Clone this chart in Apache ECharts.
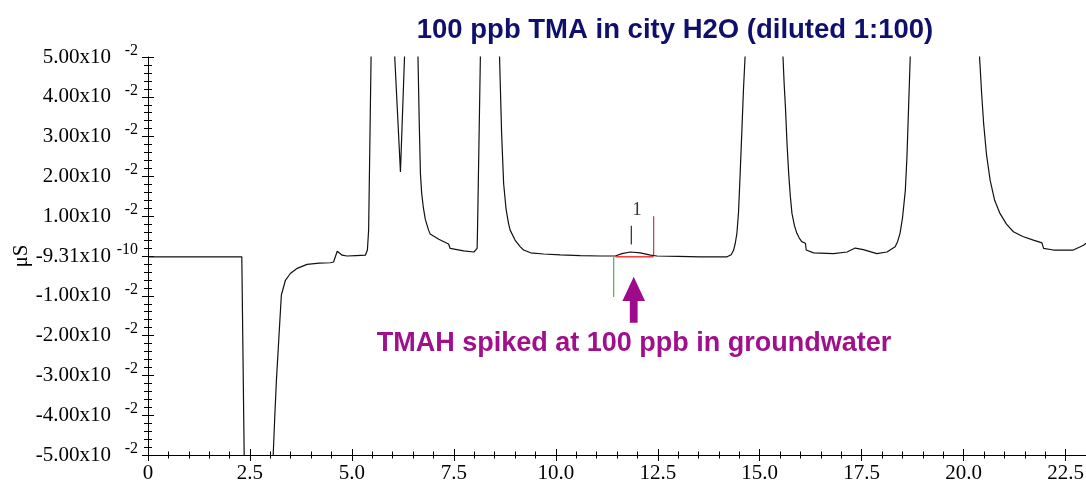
<!DOCTYPE html>
<html><head><meta charset="utf-8">
<script src="https://cdn.jsdelivr.net/npm/echarts@6/dist/echarts.min.js"></script>
<style>html,body{margin:0;padding:0;background:#fff}#c{width:1086px;height:485px}</style>
</head><body><div id="c"></div>
<script>
const titleText = '100 ppb TMA in city H2O (diluted 1:100)';
const noteText = 'TMAH spiked at 100 ppb in groundwater';
const yName = 'μS';
const peakLabel = '1';

const xMin = 0, xMax = 23;
const xTicks = [0, 2.5, 5, 7.5, 10, 12.5, 15, 17.5, 20, 22.5];
const xTickLabels = ['0', '2.5', '5.0', '7.5', '10.0', '12.5', '15.0', '17.5', '20.0', '22.5'];
const yMin = -0.05, yMax = 0.05, yStep = 0.01;
const yTickMantissa = ['-5.00x10', '-4.00x10', '-3.00x10', '-2.00x10', '-1.00x10', '-9.31x10', '1.00x10', '2.00x10', '3.00x10', '4.00x10', '5.00x10'];
const yTickExponent = ['-2', '-2', '-2', '-2', '-2', '-10', '-2', '-2', '-2', '-2', '-2'];

// retention time (min)
const timeMin = [0, 2.30, 2.33, 2.37, 2.70, 3.03, 3.07, 3.11, 3.15, 3.22, 3.27, 3.37, 3.49, 3.66, 3.90, 4.20, 4.47, 4.55, 4.64, 4.76, 4.88, 5.10, 5.33, 5.38, 5.41, 5.47, 5.60, 5.90, 6.05, 6.19, 6.29, 6.45, 6.62, 6.65, 6.68, 6.71, 6.75, 6.80, 6.88, 6.92, 7.00, 7.13, 7.17, 7.37, 7.41, 7.74, 7.99, 8.07, 8.08, 8.15, 8.40, 8.62, 8.67, 8.72, 8.78, 8.84, 8.88, 9.00, 9.13, 9.21, 9.38, 9.70, 10.11, 10.60, 11.09, 11.46, 11.62, 11.83, 12.07, 12.32, 12.48, 13.00, 13.54, 14.20, 14.30, 14.36, 14.40, 14.44, 14.48, 14.52, 14.56, 14.60, 14.64, 15.00, 15.57, 15.60, 15.63, 15.67, 15.71, 15.75, 15.79, 15.85, 15.91, 15.97, 16.03, 16.12, 16.14, 16.32, 16.81, 17.14, 17.34, 17.54, 17.87, 18.12, 18.32, 18.38, 18.44, 18.50, 18.57, 18.61, 18.65, 18.69, 19.50, 20.39, 20.44, 20.49, 20.56, 20.65, 20.76, 20.89, 21.05, 21.22, 21.45, 21.71, 21.92, 21.96, 22.20, 22.69, 22.94, 23.00];
// conductivity (µS)
const signal = [-0.0002, -0.0002, -0.0004, -0.06, -0.3, -0.06, -0.05, -0.040, -0.031, -0.0186, -0.0098, -0.0061, -0.0044, -0.0031, -0.0021, -0.0018, -0.0017, -0.0015, 0.0012, 0.0002, 0.0, 0.0001, 0.0002, 0.0015, 0.0065, 0.05, 0.3, 0.3, 0.05, 0.0211, 0.05, 0.2, 0.05, 0.034, 0.0207, 0.0158, 0.0123, 0.0092, 0.0065, 0.0055, 0.0050, 0.0042, 0.0042, 0.0030, 0.0019, 0.0013, 0.0010, 0.0019, 0.0065, 0.05, 0.3, 0.05, 0.031, 0.0182, 0.0118, 0.0082, 0.0065, 0.0040, 0.0023, 0.0015, 0.0008, 0.0005, 0.0003, 0.0001, 0.0, 0.0, 0.0006, 0.0010, 0.0008, 0.0002, 0.0, -0.0001, -0.0002, -0.0002, 0.0003, 0.0015, 0.0032, 0.0057, 0.0110, 0.0207, 0.0310, 0.0416, 0.05, 0.3, 0.05, 0.043, 0.0374, 0.0280, 0.0207, 0.0150, 0.0107, 0.0077, 0.0057, 0.0045, 0.0036, 0.0032, 0.0015, 0.0008, 0.0006, 0.0010, 0.0020, 0.0016, 0.0006, 0.0010, 0.0023, 0.0036, 0.0057, 0.0095, 0.0165, 0.0250, 0.0374, 0.05, 0.3, 0.05, 0.0410, 0.0333, 0.0255, 0.0190, 0.0140, 0.0107, 0.0080, 0.0061, 0.0049, 0.0040, 0.0033, 0.0019, 0.0015, 0.0015, 0.0027, 0.0032];

// peak 1 integration marks (time, value)
const peakStartLine = [[11.42, -0.0002], [11.42, -0.0103]];
const peakEndLine = [[12.40, 0.0100], [12.40, 0.0001]];
const peakBaseline = [[11.46, -0.0002], [12.40, -0.0002]];
const peakTickLine = [[11.85, 0.0076], [11.85, 0.0029]];
const peakLabelPos = [[11.99, 0.0115]];
// arrow: time, tip, head base, tail
const arrowData = [[11.91, -0.0052, -0.0113, -0.0168]];

const signalData = timeMin.map((t, i) => [t, signal[i]]);
const xMinor = []; for (let v = xMin; v <= xMax + 1e-9; v += 0.5) xMinor.push(+v.toFixed(2));
const yMajor = []; for (let i = 0; i < yTickMantissa.length; i++) yMajor.push(+(yMin + i * yStep).toFixed(4));
const yMinor = []; for (let v = yMin; v <= yMax + 1e-9; v += 0.002) yMinor.push(+v.toFixed(4));

const serif = 'Liberation Serif';
const sans = 'Liberation Sans';

function tickAxis(kind, values, inside, len) {
  return {
    type: 'value', min: kind === 'x' ? xMin : yMin, max: kind === 'x' ? xMax : yMax,
    position: kind === 'x' ? 'bottom' : 'left',
    axisLine: { show: false, onZero: false }, axisLabel: { show: false }, splitLine: { show: false },
    axisTick: { show: true, inside: inside, length: len, customValues: values, lineStyle: { color: '#000', width: 1 } }
  };
}

const chart = echarts.init(document.getElementById('c'), null, { renderer: 'canvas' });
chart.setOption({
  animation: false,
  backgroundColor: '#fff',
  grid: { left: 148, right: 0, top: 57, bottom: 30, containLabel: false, outerBoundsMode: 'none' },
  xAxis: [
    {
      type: 'value', min: xMin, max: xMax, position: 'bottom',
      axisLine: { show: true, onZero: false, lineStyle: { color: '#000', width: 1 } },
      axisTick: { show: true, inside: false, length: 6, customValues: xTicks, lineStyle: { color: '#000', width: 1 } },
      axisLabel: {
        show: true, customValues: xTicks, margin: 8, color: '#000', fontFamily: serif, fontSize: 21,
        formatter: v => { const i = xTicks.findIndex(t => Math.abs(t - v) < 1e-6); return i >= 0 ? xTickLabels[i] : ''; }
      },
      splitLine: { show: false }
    },
    tickAxis('x', xTicks, true, 6),
    tickAxis('x', xMinor, false, 3.5),
    tickAxis('x', xMinor, true, 3.5)
  ],
  yAxis: [
    {
      type: 'value', min: yMin, max: yMax, position: 'left',
      axisLine: { show: true, onZero: false, lineStyle: { color: '#000', width: 1 } },
      axisTick: { show: true, inside: false, length: 6, customValues: yMajor, lineStyle: { color: '#000', width: 1 } },
      axisLabel: {
        show: true, customValues: yMajor, margin: 10,
        formatter: v => { const i = Math.round((v - yMin) / yStep); return '{m|' + yTickMantissa[i] + '}{e|' + yTickExponent[i] + '}'; },
        rich: {
          m: { fontFamily: serif, fontSize: 21, color: '#000', lineHeight: 28, width: 92, align: 'right' },
          e: { fontFamily: serif, fontSize: 16, color: '#000', lineHeight: 15, padding: [0, 0, 13, 0], width: 27, align: 'right' }
        }
      },
      splitLine: { show: false }
    },
    tickAxis('y', yMajor, true, 6),
    tickAxis('y', yMinor, false, 4),
    tickAxis('y', yMinor, true, 4)
  ],
  graphic: [
    { type: 'text', x: 675, y: 30, style: { text: titleText, fontFamily: sans, fontWeight: 'bold', fontSize: 27.5, fill: '#0f0f6e', align: 'center', verticalAlign: 'middle' } },
    { type: 'text', x: 634, y: 344, style: { text: noteText, fontFamily: sans, fontWeight: 'bold', fontSize: 27, fill: '#a0108c', align: 'center', verticalAlign: 'middle' } },
    { type: 'text', x: 21, y: 256, rotation: Math.PI / 2, style: { text: yName, fontFamily: serif, fontSize: 21, fill: '#000', align: 'center', verticalAlign: 'middle' } }
  ],
  series: [
    { type: 'line', data: signalData, xAxisIndex: 0, yAxisIndex: 0, showSymbol: false, clip: true, silent: true,
      lineStyle: { color: '#111', width: 1.2 } },
    { type: 'line', data: peakBaseline, showSymbol: false, silent: true, lineStyle: { color: '#ff3a3a', width: 1.6 } },
    { type: 'line', data: peakStartLine, showSymbol: false, silent: true, lineStyle: { color: '#2e9e2e', width: 1 } },
    { type: 'line', data: peakEndLine, showSymbol: false, silent: true, lineStyle: { color: '#8b2a2a', width: 1 } },
    { type: 'line', data: peakTickLine, showSymbol: false, silent: true, lineStyle: { color: '#000', width: 1 } },
    { type: 'scatter', data: peakLabelPos, symbolSize: 0, silent: true,
      label: { show: true, position: 'inside', formatter: peakLabel, fontFamily: serif, fontSize: 19, color: '#000' } },
    { type: 'custom', data: arrowData, silent: true, clip: false,
      encode: { x: 0, y: 1 },
      renderItem: (params, api) => {
        const x = api.value(0);
        const tip = api.coord([x, api.value(1)]);
        const base = api.coord([x, api.value(2)]);
        const tail = api.coord([x, api.value(3)]);
        const hw = 11.3, sw = 3.9, cx = tip[0];
        return { type: 'polygon', shape: { points: [[cx, tip[1]], [cx + hw, base[1]], [cx + sw, base[1]], [cx + sw, tail[1]], [cx - sw, tail[1]], [cx - sw, base[1]], [cx - hw, base[1]]] },
          style: { fill: '#9e0a8c' } };
      } }
  ]
});
</script></body></html>
